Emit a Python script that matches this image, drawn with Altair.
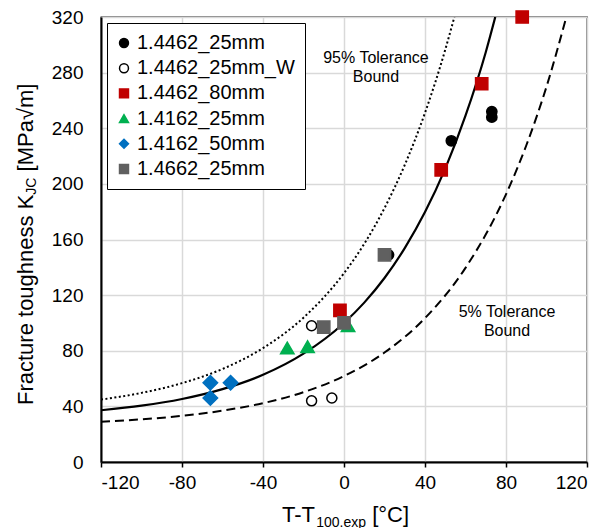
import altair as alt
import pandas as pd

FONT = "Liberation Sans"

# ---- measured data ----
series = ["1.4462_25mm", "1.4462_25mm_W", "1.4462_80mm", "1.4162_25mm", "1.4162_50mm", "1.4662_25mm"]
s_x = [
    [53, 73, 73, 22],
    [-16, -16, -6],
    [88, 68, 48, -2],
    [-28, -18, 2],
    [-66, -66, -56],
    [-10, 0, 20],
]
s_y = [
    [231, 252, 248, 149],
    [98, 44, 46],
    [320, 272, 210, 109],
    [82, 83, 98],
    [57, 46, 57],
    [97, 100, 149],
]
fills = ["#000000", "#ffffff", "#c00000", "#00b050", "#0070c0", "#606060"]
strokes = ["#000000", "#000000", "#c00000", "#00b050", "#0070c0", "#606060"]
shapes = ["circle", "circle", "square", "triangle-up", "diamond", "square"]
sizes = [105, 100, 150, 180, 210, 150]

# master curve (median) and tolerance bounds
med_x = [-120, -100, -80, -60, -40, -20, 0, 10, 20, 30, 40, 50, 60, 70, 74.7]
med_y = [37.2, 40.5, 45.3, 52.4, 62.7, 77.9, 100, 114.6, 132.3, 153.8, 179.7, 211, 249, 294.7, 320]
up_x = [-120, -100, -80, -60, -40, -20, 0, 10, 20, 30, 40, 50, 54.5]
up_y = [44.9, 49.7, 56.7, 66.9, 81.9, 103.8, 135.8, 156.9, 182.6, 213.6, 251.1, 296.5, 320]
lo_x = [-120, -100, -80, -60, -40, -20, 0, 20, 40, 60, 80, 90, 100, 109.8]
lo_y = [28.9, 30.7, 33.2, 36.9, 42.3, 50.2, 61.8, 78.7, 103.5, 139.6, 192.5, 227.6, 269.9, 320]

ann_x = [15.8, 80.5]
ann_y = [283.5, 101]
ann_text = ["95% Tolerance\nBound", "5% Tolerance\nBound"]

x_ticks = [-120, -80, -40, 0, 40, 80, 120]
y_ticks = [0, 40, 80, 120, 160, 200, 240, 280, 320]

W, H = 486, 445

rows = []
for name, xs, ys, sz in zip(series, s_x, s_y, sizes):
    for a, b in zip(xs, ys):
        rows.append({"x": a, "y": b, "series": name, "sz": sz})
pts = pd.DataFrame(rows)

xsc = alt.Scale(domain=[-120, 120], nice=False, zero=False)
ysc = alt.Scale(domain=[0, 320], nice=False, zero=False)

xaxis = alt.Axis(values=x_ticks, title=None, grid=True, gridColor="#d9d9d9", gridWidth=1.5,
                 domainColor="#000000", domainWidth=2, ticks=True, tickColor="#000000",
                 tickWidth=1.5, tickSize=5, labelFontSize=19, labelFont=FONT, labelColor="#000000",
                 labelPadding=6, labelExpr="'' + datum.value")
yaxis = alt.Axis(values=y_ticks, title=None, grid=True, gridColor="#d9d9d9", gridWidth=1.5,
                 domainColor="#000000", domainWidth=2, ticks=False, labelFontSize=19,
                 labelFont=FONT, labelColor="#000000", labelPadding=18,
                 labelExpr="'' + datum.value")


def curve(xs, ys, dash, width):
    df = pd.DataFrame({"x": xs, "y": ys})
    kw = dict(color="#000000", strokeWidth=width, interpolate="monotone", clip=True)
    if dash:
        kw["strokeDash"] = dash
    return alt.Chart(df).mark_line(**kw).encode(
        x=alt.X("x:Q", scale=xsc, axis=xaxis),
        y=alt.Y("y:Q", scale=ysc, axis=yaxis),
    )


median = curve(med_x, med_y, None, 2.2)
upper = curve(up_x, up_y, [2, 2.5], 2)
lower = curve(lo_x, lo_y, [9, 5], 2)

leg = alt.Legend(
    title=None, orient="top-left", offset=6, padding=10, strokeColor="#000000",
    fillColor="#ffffff", cornerRadius=0, labelFont=FONT, labelFontSize=20,
    labelColor="#000000", symbolSize=80, rowPadding=5.2, labelOffset=3,
    symbolOffset=-3, symbolStrokeWidth=1.5, labelLimit=300,
)

points = alt.Chart(pts).mark_point(filled=False, opacity=1, strokeWidth=1.5).encode(
    x=alt.X("x:Q", scale=xsc, axis=xaxis),
    y=alt.Y("y:Q", scale=ysc, axis=yaxis),
    shape=alt.Shape("series:N", scale=alt.Scale(domain=series, range=shapes), legend=leg),
    fill=alt.Fill("series:N", scale=alt.Scale(domain=series, range=fills), legend=leg),
    stroke=alt.Stroke("series:N", scale=alt.Scale(domain=series, range=strokes), legend=leg),
    size=alt.Size("sz:Q", scale=None),
)

ann = alt.Chart(pd.DataFrame({"x": ann_x, "y": ann_y, "t": ann_text})).mark_text(
    font=FONT, fontSize=16, lineBreak="\n", lineHeight=19, align="center", baseline="middle",
    color="#000000", dy=-9.5
).encode(x=alt.X("x:Q", scale=xsc), y=alt.Y("y:Q", scale=ysc), text="t:N")

# axis titles with subscripts
TF = 22
SF = 14
GAP = 0.278 * TF
one = pd.DataFrame({"k": [0]})
yt_x = -75
y0 = 388
len_a = 9.56 * TF
len_b = 1.222 * SF
yt1 = alt.Chart(one).mark_text(text="Fracture toughness K", font=FONT, fontSize=TF, angle=270,
                               align="left", baseline="middle", color="#000000").encode(
    x=alt.value(yt_x), y=alt.value(y0))
yt2 = alt.Chart(one).mark_text(text="JC", font=FONT, fontSize=SF, angle=270,
                               align="left", baseline="middle", color="#000000").encode(
    x=alt.value(yt_x + 6), y=alt.value(y0 - len_a))
yt3 = alt.Chart(one).mark_text(text="[MPa\u221am]", font=FONT, fontSize=TF, angle=270,
                               align="left", baseline="middle", color="#000000").encode(
    x=alt.value(yt_x), y=alt.value(y0 - len_a - len_b - GAP))

x0 = 282 - 101
xb = 505
len_c = 1.555 * TF
len_d = 3.558 * SF
xt1 = alt.Chart(one).mark_text(text="T-T", font=FONT, fontSize=TF, align="left",
                               baseline="alphabetic", color="#000000").encode(
    x=alt.value(x0), y=alt.value(xb))
xt2 = alt.Chart(one).mark_text(text="100.exp", font=FONT, fontSize=SF, align="left",
                               baseline="alphabetic", color="#000000").encode(
    x=alt.value(x0 + len_c), y=alt.value(xb + 5))
xt3 = alt.Chart(one).mark_text(text="[\u00b0C]", font=FONT, fontSize=TF, align="left",
                               baseline="alphabetic", color="#000000").encode(
    x=alt.value(x0 + len_c + len_d + GAP), y=alt.value(xb))

chart = alt.layer(median, upper, lower, points, ann, yt1, yt2, yt3, xt1, xt2, xt3).properties(
    width=W, height=H,
    background="#ffffff",
    autosize=alt.AutoSizeParams(type="none"),
    padding={"left": 101, "top": 17, "right": 26, "bottom": 66},
).configure_view(
    stroke="#000000", strokeWidth=1.3
)

chart.save("out.html", embed_options={"renderer": "svg", "actions": False})
